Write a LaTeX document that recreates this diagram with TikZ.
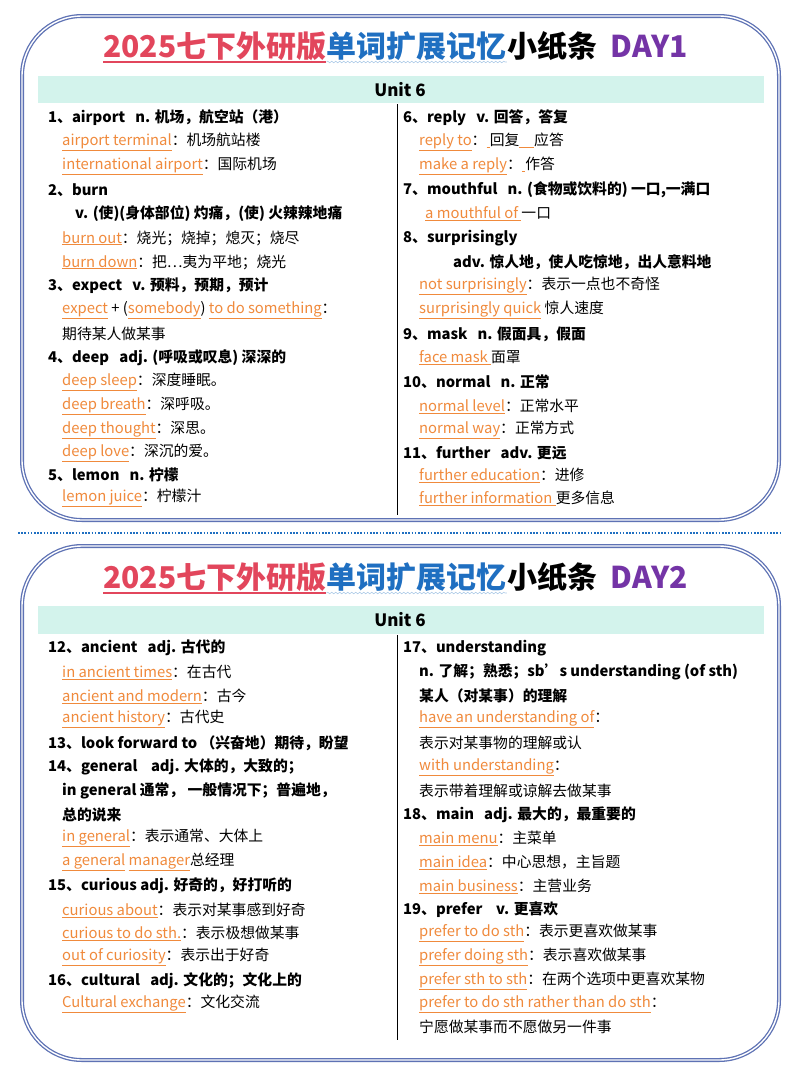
\documentclass[tikz,border=0pt]{standalone}
\usepackage{fontspec}
\setmainfont{Noto Sans CJK SC}
\usetikzlibrary{decorations.pathmorphing}
\definecolor{ph}{HTML}{F08A3C}
\definecolor{tred}{HTML}{E2465C}
\definecolor{tblue}{HTML}{1F6FC1}
\definecolor{tpur}{HTML}{7434A6}
\definecolor{frame}{HTML}{5E72B4}
\definecolor{bar}{HTML}{D3F3EC}
\newcommand\ph[1]{{\color{ph}\underline{#1}}}
\newcommand\hw[1]{\textbf{#1}}
\tikzset{txt/.style={anchor=west,inner sep=0pt,font=\fontsize{14.8}{16}\selectfont},
 boxf/.style={draw=frame,double=white,double distance=1.4pt,line width=1.3pt,rounded corners=60pt},
 ttl/.style={inner sep=0pt,font=\fontsize{30}{32}\selectfont\bfseries,anchor=base west}}
\newcommand\wl[4]{\node[txt] (#1) at (#2,#3) {#4};}
\newcommand\mytitle[3]{% name, y, day
 \node[ttl,text=tred] (#1r) at (103,#2) {2025七下外研版};
 \node[ttl,text=tblue] (#1b) at (#1r.base east) {单词扩展记忆};
 \node[ttl] (#1k) at (#1b.base east) {小纸条\ \ \textcolor{tpur}{#3}};
 \draw[tred,line width=2.6pt] ([yshift=-5pt]#1r.base west) -- ([yshift=-5pt]#1r.base east);
 \draw[tblue!35,line width=0.6pt,decorate,decoration={snake,amplitude=0.8pt,segment length=4pt}] ([yshift=-5pt]#1b.base west) -- ([yshift=-5pt]#1b.base east);}
\begin{document}
\begin{tikzpicture}[x=1pt,y=-1pt]
\path[use as bounding box] (0,0) rectangle (800,1066);
\fill[white] (0,0) rectangle (800,1066);
% box 1
\draw[boxf] (22,16) rectangle (779,520);
\mytitle{ta}{57}{DAY1}
\fill[bar] (38,76) rectangle (764,103);
\node[txt,anchor=center,font=\fontsize{17}{18}\selectfont\bfseries] (u1) at (400,90) {Unit 6};
\coordinate (d1a) at (397,104); \coordinate (d1b) at (397,515);
\draw[line width=0.6pt] (d1a) -- (d1b);
\wl{a1}{48}{118}{\hw{1、airport\ \ \ n. 机场，航空站（港）}}
\wl{a2}{62}{142}{\ph{airport terminal}：机场航站楼}
\wl{a3}{62}{166}{\ph{international airport}：国际机场}
\wl{a4}{48}{190}{\hw{2、burn}}
\wl{a5}{75}{214}{\hw{v. (使)(身体部位) 灼痛，(使) 火辣辣地痛}}
\wl{a6}{62}{238}{\ph{burn out}：烧光；烧掉；熄灭；烧尽}
\wl{a7}{62}{262}{\ph{burn down}：把…夷为平地；烧光}
\wl{a8}{48}{286}{\hw{3、expect\ \ \ v. 预料，预期，预计}}
\wl{a9}{62}{310}{\ph{expect} + (\ph{somebody}) \ph{to do something}：}
\wl{a10}{62}{334}{期待某人做某事}
\wl{a11}{48}{358}{\hw{4、deep\ \ \ adj. (呼吸或叹息) 深深的}}
\wl{a12}{62}{382}{\ph{deep sleep}：深度睡眠。}
\wl{a13}{62}{406}{\ph{deep breath}：深呼吸。}
\wl{a14}{62}{430}{\ph{deep thought}：深思。}
\wl{a15}{62}{453}{\ph{deep love}：深沉的爱。}
\wl{a16}{48}{475}{\hw{5、lemon\ \ \ n. 柠檬}}
\wl{a17}{62}{498}{\ph{lemon juice}：柠檬汁}
\wl{b1}{403}{118}{\hw{6、reply\ \ \ v. 回答，答复}}
\wl{b2}{419}{142}{\ph{reply to}：\ph{\ }回复\ph{\quad}应答}
\wl{b3}{419}{166}{\ph{make a reply}：\ph{\ }作答}
\wl{b4}{403}{190}{\hw{7、mouthful\ \ \ n. (食物或饮料的) 一口,一满口}}
\wl{b5}{425}{214}{\ph{a mouthful of\ }一口}
\wl{b6}{403}{238}{\hw{8、surprisingly}}
\wl{b7}{453}{262}{\hw{adv. 惊人地，使人吃惊地，出人意料地}}
\wl{b8}{419}{286}{\ph{not surprisingly}：表示一点也不奇怪}
\wl{b9}{419}{310}{\ph{surprisingly quick} 惊人速度}
\wl{b10}{403}{334}{\hw{9、mask\ \ \ n. 假面具，假面}}
\wl{b11}{419}{358}{\ph{face mask\ }面罩}
\wl{b12}{403}{382}{\hw{10、normal\ \ \ n. 正常}}
\wl{b13}{419}{406}{\ph{normal level}：正常水平}
\wl{b14}{419}{430}{\ph{normal way}：正常方式}
\wl{b15}{403}{453}{\hw{11、further\ \ \ adv. 更远}}
\wl{b16}{419}{475}{\ph{further education}：进修}
\wl{b17}{419}{498}{\ph{further information\ }更多信息}
% separator
\coordinate (s1) at (18,533); \coordinate (s2) at (781,533);
\draw[tblue,line width=2.2pt,dash pattern=on 1.6pt off 1.6pt] (s1) -- (s2);
% box 2
\draw[boxf] (22,546) rectangle (779,1060);
\mytitle{tb}{588}{DAY2}
\fill[bar] (38,606) rectangle (764,634);
\node[txt,anchor=center,font=\fontsize{17}{18}\selectfont\bfseries] (u2) at (400,620) {Unit 6};
\coordinate (d2a) at (397,635); \coordinate (d2b) at (397,1040);
\draw[line width=0.6pt] (d2a) -- (d2b);
\wl{c1}{48}{648}{\hw{12、ancient\ \ \ adj. 古代的}}
\wl{c2}{62}{672}{\ph{in ancient times}：在古代}
\wl{c3}{62}{696}{\ph{ancient and modern}：古今}
\wl{c4}{62}{719}{\ph{ancient history}：古代史}
\wl{c5}{48}{743}{\hw{13、look forward to （兴奋地）期待，盼望}}
\wl{c6}{48}{767}{\hw{14、general\ \ \ \ adj. 大体的，大致的；}}
\wl{c7}{62}{791}{\hw{in general 通常，\ 一般情况下；普遍地，}}
\wl{c8}{62}{815}{\hw{总的说来}}
\wl{c9}{62}{838}{\ph{in general}：表示通常、大体上}
\wl{c10}{62}{862}{\ph{a general} \ph{manager}总经理}
\wl{c11}{48}{886}{\hw{15、curious adj. 好奇的，好打听的}}
\wl{c12}{62}{910}{\ph{curious about}：表示对某事感到好奇}
\wl{c13}{62}{933}{\ph{curious to do sth.}：表示极想做某事}
\wl{c14}{62}{957}{\ph{out of curiosity}：表示出于好奇}
\wl{c15}{48}{981}{\hw{16、cultural\ \ \ adj. 文化的；文化上的}}
\wl{c16}{62}{1004}{\ph{Cultural exchange}：文化交流}
\wl{e1}{403}{648}{\hw{17、understanding}}
\wl{e2}{419}{672}{\hw{n. 了解；熟悉；sb's understanding (of sth)}}
\wl{e3}{419}{696}{\hw{某人（对某事）的理解}}
\wl{e4}{419}{719}{\ph{have an understanding of}：}
\wl{e5}{419}{743}{表示对某事物的理解或认}
\wl{e6}{419}{767}{\ph{with understanding}：}
\wl{e7}{419}{791}{表示带着理解或谅解去做某事}
\wl{e8}{403}{815}{\hw{18、main\ \ \ adj. 最大的，最重要的}}
\wl{e9}{419}{838}{\ph{main menu}：主菜单}
\wl{e10}{419}{862}{\ph{main idea}：中心思想，主旨题}
\wl{e11}{419}{886}{\ph{main business}：主营业务}
\wl{e12}{403}{910}{\hw{19、prefer\ \ \ \ v. 更喜欢}}
\wl{e13}{419}{933}{\ph{prefer to do sth}：表示更喜欢做某事}
\wl{e14}{419}{957}{\ph{prefer doing sth}：表示喜欢做某事}
\wl{e15}{419}{981}{\ph{prefer sth to sth}：在两个选项中更喜欢某物}
\wl{e16}{419}{1004}{\ph{prefer to do sth rather than do sth}：}
\wl{e17}{419}{1027}{宁愿做某事而不愿做另一件事}
\end{tikzpicture}
\end{document}
